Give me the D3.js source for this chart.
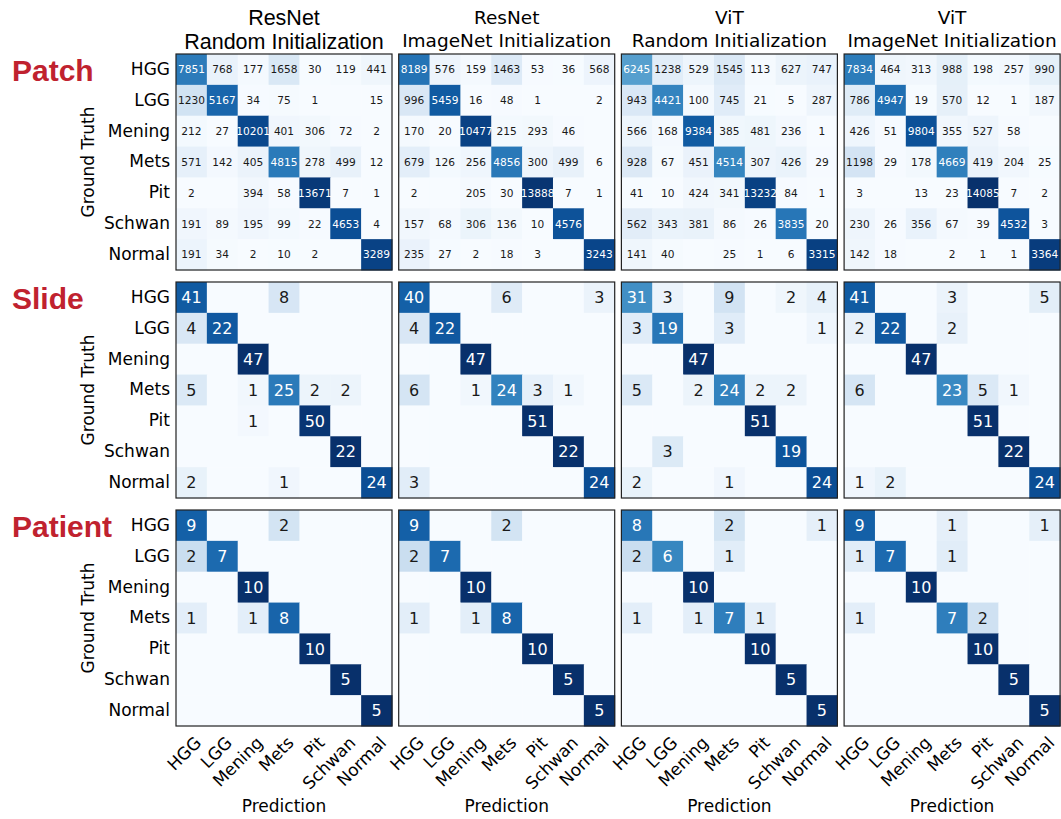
<!DOCTYPE html>
<html>
<head>
<meta charset="utf-8">
<script src="https://cdn.jsdelivr.net/npm/d3@7"></script>
<style>
  body { margin: 0; background: #fff; }
  svg { display: block; }
  .axis path { display: none; }
  .axis text { font-family: "DejaVu Sans", sans-serif; font-size: 17px; fill: #000; }
</style>
</head>
<body>
<svg id="svg" width="1061" height="819"></svg>
<script>
// class labels (rows = ground truth, cols = prediction)
const classes = ["HGG", "LGG", "Mening", "Mets", "Pit", "Schwan", "Normal"];
const levels = ["Patch", "Slide", "Patient"];
const modelNames = ["ResNet", "ResNet", "ViT", "ViT"];
const initNames = ["Random Initialization", "ImageNet Initialization", "Random Initialization", "ImageNet Initialization"];

// patch level
const patchResNetRandom = [
    [7851, 768, 177, 1658, 30, 119, 441],
    [1230, 5167, 34, 75, 1, 0, 15],
    [212, 27, 10201, 401, 306, 72, 2],
    [571, 142, 405, 4815, 278, 499, 12],
    [2, 0, 394, 58, 13671, 7, 1],
    [191, 89, 195, 99, 22, 4653, 4],
    [191, 34, 2, 10, 2, 0, 3289]
];
const patchResNetImageNet = [
    [8189, 576, 159, 1463, 53, 36, 568],
    [996, 5459, 16, 48, 1, 0, 2],
    [170, 20, 10477, 215, 293, 46, 0],
    [679, 126, 256, 4856, 300, 499, 6],
    [2, 0, 205, 30, 13888, 7, 1],
    [157, 68, 306, 136, 10, 4576, 0],
    [235, 27, 2, 18, 3, 0, 3243]
];
const patchViTRandom = [
    [6245, 1238, 529, 1545, 113, 627, 747],
    [943, 4421, 100, 745, 21, 5, 287],
    [566, 168, 9384, 385, 481, 236, 1],
    [928, 67, 451, 4514, 307, 426, 29],
    [41, 10, 424, 341, 13232, 84, 1],
    [562, 343, 381, 86, 26, 3835, 20],
    [141, 40, 0, 25, 1, 6, 3315]
];
const patchViTImageNet = [
    [7834, 464, 313, 988, 198, 257, 990],
    [786, 4947, 19, 570, 12, 1, 187],
    [426, 51, 9804, 355, 527, 58, 0],
    [1198, 29, 178, 4669, 419, 204, 25],
    [3, 0, 13, 23, 14085, 7, 2],
    [230, 26, 356, 67, 39, 4532, 3],
    [142, 18, 0, 2, 1, 1, 3364]
];

// slide level
const slideResNetRandom = [
    [41, 0, 0, 8, 0, 0, 0],
    [4, 22, 0, 0, 0, 0, 0],
    [0, 0, 47, 0, 0, 0, 0],
    [5, 0, 1, 25, 2, 2, 0],
    [0, 0, 1, 0, 50, 0, 0],
    [0, 0, 0, 0, 0, 22, 0],
    [2, 0, 0, 1, 0, 0, 24]
];
const slideResNetImageNet = [
    [40, 0, 0, 6, 0, 0, 3],
    [4, 22, 0, 0, 0, 0, 0],
    [0, 0, 47, 0, 0, 0, 0],
    [6, 0, 1, 24, 3, 1, 0],
    [0, 0, 0, 0, 51, 0, 0],
    [0, 0, 0, 0, 0, 22, 0],
    [3, 0, 0, 0, 0, 0, 24]
];
const slideViTRandom = [
    [31, 3, 0, 9, 0, 2, 4],
    [3, 19, 0, 3, 0, 0, 1],
    [0, 0, 47, 0, 0, 0, 0],
    [5, 0, 2, 24, 2, 2, 0],
    [0, 0, 0, 0, 51, 0, 0],
    [0, 3, 0, 0, 0, 19, 0],
    [2, 0, 0, 1, 0, 0, 24]
];
const slideViTImageNet = [
    [41, 0, 0, 3, 0, 0, 5],
    [2, 22, 0, 2, 0, 0, 0],
    [0, 0, 47, 0, 0, 0, 0],
    [6, 0, 0, 23, 5, 1, 0],
    [0, 0, 0, 0, 51, 0, 0],
    [0, 0, 0, 0, 0, 22, 0],
    [1, 2, 0, 0, 0, 0, 24]
];

// patient level
const patientResNetRandom = [
    [9, 0, 0, 2, 0, 0, 0],
    [2, 7, 0, 0, 0, 0, 0],
    [0, 0, 10, 0, 0, 0, 0],
    [1, 0, 1, 8, 0, 0, 0],
    [0, 0, 0, 0, 10, 0, 0],
    [0, 0, 0, 0, 0, 5, 0],
    [0, 0, 0, 0, 0, 0, 5]
];
const patientResNetImageNet = [
    [9, 0, 0, 2, 0, 0, 0],
    [2, 7, 0, 0, 0, 0, 0],
    [0, 0, 10, 0, 0, 0, 0],
    [1, 0, 1, 8, 0, 0, 0],
    [0, 0, 0, 0, 10, 0, 0],
    [0, 0, 0, 0, 0, 5, 0],
    [0, 0, 0, 0, 0, 0, 5]
];
const patientViTRandom = [
    [8, 0, 0, 2, 0, 0, 1],
    [2, 6, 0, 1, 0, 0, 0],
    [0, 0, 10, 0, 0, 0, 0],
    [1, 0, 1, 7, 1, 0, 0],
    [0, 0, 0, 0, 10, 0, 0],
    [0, 0, 0, 0, 0, 5, 0],
    [0, 0, 0, 0, 0, 0, 5]
];
const patientViTImageNet = [
    [9, 0, 0, 1, 0, 0, 1],
    [1, 7, 0, 1, 0, 0, 0],
    [0, 0, 10, 0, 0, 0, 0],
    [1, 0, 0, 7, 2, 0, 0],
    [0, 0, 0, 0, 10, 0, 0],
    [0, 0, 0, 0, 0, 5, 0],
    [0, 0, 0, 0, 0, 0, 5]
];

const grid = [
    [patchResNetRandom, patchResNetImageNet, patchViTRandom, patchViTImageNet],
    [slideResNetRandom, slideResNetImageNet, slideViTRandom, slideViTImageNet],
    [patientResNetRandom, patientResNetImageNet, patientViTRandom, patientViTImageNet]
];

const svg = d3.select("#svg"),
    size = 216,
    left = 176,
    top0 = 54,
    colStep = 222.7,
    rowStep = 228,
    cellFont = [10.6, 16, 16];

const x = d3.scaleBand().domain(classes).range([0, size]),
    y = d3.scaleBand().domain(classes).range([0, size]),
    color = d3.scaleSequential(d3.interpolateBlues).domain([0, 1]);

// column titles
modelNames.forEach((m, c) => {
    const cx = left + c * colStep + size / 2;
    const first = c === 0;
    const t = svg.append("text")
        .attr("x", cx)
        .attr("text-anchor", "middle")
        .style("font-family", first ? "'Liberation Sans', Arial, sans-serif" : "'DejaVu Sans', sans-serif")
        .style("font-size", first ? "21.5px" : "18.5px")
        .style("fill", "#000");
    t.append("tspan").attr("x", cx).attr("y", first ? 25 : 24).text(m);
    t.append("tspan").attr("x", cx).attr("y", first ? 49 : 47).text(initNames[c]);
});

grid.forEach((row, r) => {
    const gy = top0 + r * rowStep;

    // level label
    svg.append("text")
        .attr("x", 12)
        .attr("y", gy + 27)
        .style("font-family", "'Liberation Sans', Arial, sans-serif")
        .style("font-weight", "bold")
        .style("font-size", "30px")
        .style("fill", "#c0222f")
        .text(levels[r]);

    // ground truth label
    svg.append("text")
        .attr("transform", "translate(94," + (gy + size / 2) + ") rotate(-90)")
        .attr("text-anchor", "middle")
        .style("font-family", "'DejaVu Sans', sans-serif")
        .style("font-size", "17px")
        .text("Ground Truth");

    row.forEach((m, c) => {
        const g = svg.append("g").attr("transform", "translate(" + (left + c * colStep) + "," + gy + ")");
        const cells = [];
        m.forEach((vals, i) => {
            const total = d3.sum(vals);
            vals.forEach((v, j) => cells.push({ gt: classes[i], pred: classes[j], v: v, n: total ? v / total : 0 }));
        });

        g.selectAll("rect.cell")
            .data(cells)
            .join("rect")
            .attr("class", "cell")
            .attr("x", d => x(d.pred))
            .attr("y", d => y(d.gt))
            .attr("width", x.bandwidth() + 0.5)
            .attr("height", y.bandwidth() + 0.5)
            .attr("fill", d => color(d.n));

        g.selectAll("text.val")
            .data(cells.filter(d => d.v > 0))
            .join("text")
            .attr("class", "val")
            .attr("x", d => x(d.pred) + x.bandwidth() / 2)
            .attr("y", d => y(d.gt) + y.bandwidth() / 2)
            .attr("dy", "0.36em")
            .attr("text-anchor", "middle")
            .style("font-family", "'DejaVu Sans', sans-serif")
            .style("font-size", cellFont[r] + "px")
            .style("fill", d => d.n > 0.5 ? "#fff" : "#1a1a1a")
            .text(d => d.v);

        g.append("rect")
            .attr("width", size)
            .attr("height", size)
            .attr("fill", "none")
            .attr("stroke", "#222")
            .attr("stroke-width", 1.2);

        if (c === 0) {
            g.append("g").attr("class", "axis")
                .call(d3.axisLeft(y).tickSize(0).tickPadding(6));
        }

        if (r === grid.length - 1) {
            const ax = g.append("g").attr("class", "axis")
                .attr("transform", "translate(0," + size + ")")
                .call(d3.axisBottom(x).tickSize(0));
            ax.selectAll(".tick text")
                .attr("x", 0)
                .attr("y", 0)
                .attr("dy", "0.9em")
                .attr("text-anchor", "end")
                .attr("transform", "translate(0,7) rotate(-45)");

            g.append("text")
                .attr("x", size / 2)
                .attr("y", size + 86)
                .attr("text-anchor", "middle")
                .style("font-family", "'DejaVu Sans', sans-serif")
                .style("font-size", "17px")
                .text("Prediction");
        }
    });
});
</script>
</body>
</html>
